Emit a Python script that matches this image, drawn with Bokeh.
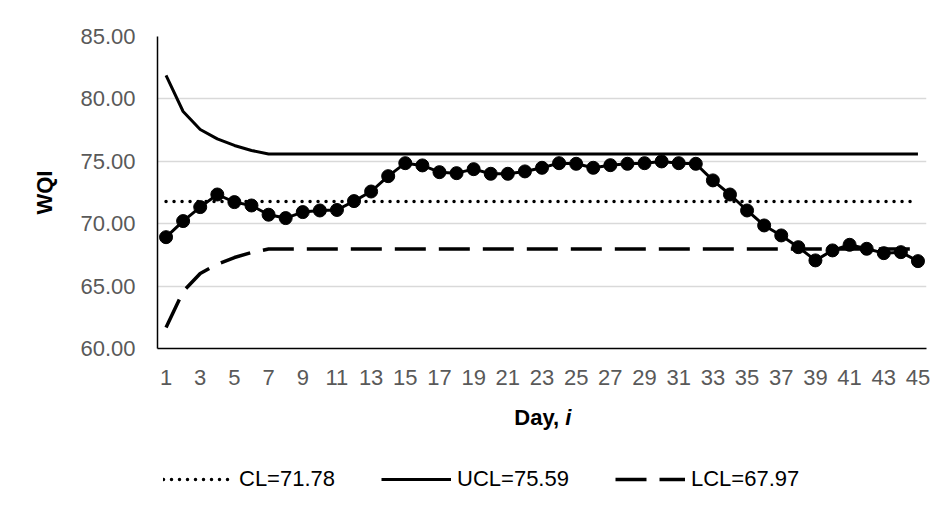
from bokeh.plotting import figure
from bokeh.layouts import column
from bokeh.models import Legend, LegendItem, Label, FixedTicker, PrintfTickFormatter, Range1d
from bokeh.embed import file_html
from bokeh.resources import INLINE

# ---- data ----
days = list(range(1, 46))
wqi = [68.92, 70.21, 71.33, 72.34, 71.73, 71.46, 70.72, 70.45, 70.93, 71.06,
       71.10, 71.81, 72.58, 73.81, 74.85, 74.67, 74.13, 74.05, 74.37, 74.00,
       74.00, 74.19, 74.48, 74.85, 74.80, 74.48, 74.69, 74.80, 74.85, 74.99,
       74.85, 74.80, 73.47, 72.34, 71.06, 69.86, 69.06, 68.12, 67.06, 67.86,
       68.31, 67.99, 67.64, 67.72, 67.00]
cl = [71.78] * 45
ucl = [81.88, 78.99, 77.55, 76.80, 76.27, 75.87] + [75.59] * 39
lcl = [61.68, 64.57, 66.01, 66.76, 67.29, 67.69] + [67.97] * 39
x_ticks = [1, 3, 5, 7, 9, 11, 13, 15, 17, 19, 21, 23, 25, 27, 29, 31, 33, 35, 37, 39, 41, 43, 45]
y_ticks = [60, 65, 70, 75, 80, 85]
legend_labels = ["CL=71.78", "UCL=75.59", "LCL=67.97"]

FONT = "Liberation Sans"
W = 946
BL, BR = 157, 20

# ---- main chart ----
p = figure(width=W, height=396, output_backend="svg", toolbar_location=None,
           x_range=Range1d(0.5, 45.5), y_range=Range1d(60, 85),
           min_border_left=BL, min_border_right=BR, min_border_top=36, min_border_bottom=48)
p.outline_line_color = None
p.background_fill_color = "white"
p.border_fill_color = "white"

xa = p.xaxis[0]
xa.ticker = FixedTicker(ticks=x_ticks)
xa.major_label_text_font = FONT
xa.major_label_text_font_size = "22px"
xa.major_label_text_color = "#595959"
xa.axis_line_color = "black"
xa.axis_line_width = 1.5
xa.major_tick_line_color = None
xa.major_tick_out = 0
xa.major_tick_in = 0
xa.minor_tick_line_color = None
xa.major_label_standoff = 21

ya = p.yaxis[0]
ya.ticker = FixedTicker(ticks=y_ticks)
ya.formatter = PrintfTickFormatter(format="%.2f")
ya.major_label_text_font = FONT
ya.major_label_text_font_size = "22px"
ya.major_label_text_color = "#595959"
ya.axis_line_color = "black"
ya.axis_line_width = 1.5
ya.major_tick_line_color = None
ya.major_tick_out = 0
ya.major_tick_in = 0
ya.minor_tick_line_color = None
ya.major_label_standoff = 22
ya.axis_label = "WQI"
ya.axis_label_text_font = FONT
ya.axis_label_text_font_size = "22px"
ya.axis_label_text_font_style = "bold"
ya.axis_label_text_color = "black"
ya.axis_label_standoff = 20

p.xgrid.grid_line_color = None
p.ygrid.grid_line_color = "#d9d9d9"
p.ygrid.grid_line_width = 1.3

CL_STYLE = dict(line_color="black", line_width=3.5, line_dash="0 8", line_cap="round")
UCL_STYLE = dict(line_color="black", line_width=3)
LCL_STYLE = dict(line_color="black", line_width=3.5, line_dash="31 13")

p.line(days, cl, **CL_STYLE)
p.line(days, ucl, **UCL_STYLE)
p.line(days, lcl, **LCL_STYLE)
p.line(days, wqi, line_color="black", line_width=3)
p.scatter(days, wqi, marker="circle", size=13, fill_color="black", line_color="black")

# ---- lower strip: x title + legend (same frame alignment as main chart) ----
H2 = 116
q = figure(width=W, height=H2, output_backend="svg", toolbar_location=None,
           x_range=Range1d(1000, 2000), y_range=Range1d(0, 100),
           x_axis_location=None, y_axis_location=None,
           min_border_left=BL, min_border_right=BR, min_border_top=0, min_border_bottom=0)
q.outline_line_color = None
q.grid.visible = False
q.background_fill_color = "white"
q.border_fill_color = "white"

# legend carriers: the same series, lying outside this strip's visible range
l_cl = q.line(days, cl, **CL_STYLE)
l_ucl = q.line(days, ucl, **UCL_STYLE)
l_lcl = q.line(days, lcl, **LCL_STYLE)

legend = Legend(items=[LegendItem(label=legend_labels[0], renderers=[l_cl]),
                       LegendItem(label=legend_labels[1], renderers=[l_ucl]),
                       LegendItem(label=legend_labels[2], renderers=[l_lcl])],
                orientation="horizontal", location=(6, 20),
                label_text_font=FONT, label_text_font_size="22px", label_text_color="black",
                glyph_width=70, glyph_height=20, label_standoff=6, spacing=46,
                padding=0, margin=0, border_line_color=None, background_fill_alpha=0)
q.add_layout(legend, "center")

q.add_layout(Label(x=401.7, y=95, x_units="screen", y_units="screen", text="Day,",
                   text_font=FONT, text_font_size="22px", text_font_style="bold",
                   text_align="right", text_baseline="alphabetic", text_color="black"))
q.add_layout(Label(x=407.8, y=95, x_units="screen", y_units="screen", text="i",
                   text_font=FONT, text_font_size="22px", text_font_style="bold italic",
                   text_align="left", text_baseline="alphabetic", text_color="black"))

layout = column(p, q, spacing=0)

open("out.html", "w").write(file_html(layout, INLINE))
